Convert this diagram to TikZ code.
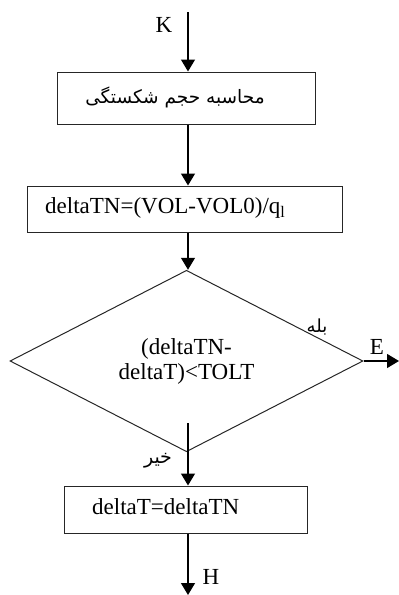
\documentclass[tikz,border=0pt]{standalone}
\usepackage{fontspec}
\setmainfont{Liberation Serif}
\newfontfamily\fa[Script=Arabic]{DejaVu Sans}
\TeXXeTstate=1
\usetikzlibrary{arrows.meta,shapes.geometric}
\tikzset{
  procbox/.style={draw=black!85, line width=1pt, rectangle, inner sep=0pt},
  decbox/.style={draw=black!85, line width=1pt, diamond, inner sep=0pt, align=center, font=\fontsize{23}{25}\selectfont},
  flow/.style={line width=1.2pt, -{Triangle[width=14pt,length=12pt]}},
  lbl/.style={font=\fontsize{23}{25}\selectfont, inner sep=0pt},
  falbl/.style={font=\fa\fontsize{18}{20}\selectfont, inner sep=0pt}
}
\begin{document}
\begin{tikzpicture}[x=1pt,y=-1pt]
\useasboundingbox (0,0) rectangle (399,595);
% boxes
\node[procbox, minimum width=258pt, minimum height=52pt] (b1) at (186,98) {};
\node[font=\fa\fontsize{18.5}{20}\selectfont, inner sep=0pt] (t1) at (175,97) {\beginR محاسبه حجم شکستگی\endR};
\node[procbox, minimum width=315pt, minimum height=46pt] (b2) at (184.5,209) {};
\node[lbl, anchor=west] (t2) at (45,208) {deltaTN=(VOL-VOL0)/q\textsubscript{l}};
\node[decbox, minimum width=353pt, minimum height=128pt] (d) at (186.5,361) {(deltaTN-\\deltaT)<TOLT};
\node[procbox, minimum width=243pt, minimum height=47pt] (b3) at (185.5,509.5) {};
\node[lbl, anchor=west] (t3) at (92,507) {deltaT=deltaTN};
% free ends
\coordinate (top) at (188,12);
\coordinate (bot) at (188,595);
\coordinate (eend) at (399,361);
\coordinate (dbot) at (188,423);
% connectors
\draw[flow] (top) -- (top |- b1.north);
\draw[flow] (b1.south -| top) -- (b2.north -| top);
\draw[flow] (b2.south -| top) -- (d.north -| top);
\draw[flow] (dbot) -- (b3.north -| top);
\draw[flow] (b3.south -| top) -- (bot);
\draw[flow] (d.east) -- (eend);
% labels
\node[lbl] (k) at (164,25) {K};
\node[lbl] (e) at (377,347) {E};
\node[lbl] (h) at (211,577) {H};
\node[falbl] (yes) at (317,327) {\beginR بله\endR};
\node[font=\fa\fontsize{19}{21}\selectfont, inner sep=0pt] (no) at (158,461) {\beginR خیر\endR};
\end{tikzpicture}
\end{document}
